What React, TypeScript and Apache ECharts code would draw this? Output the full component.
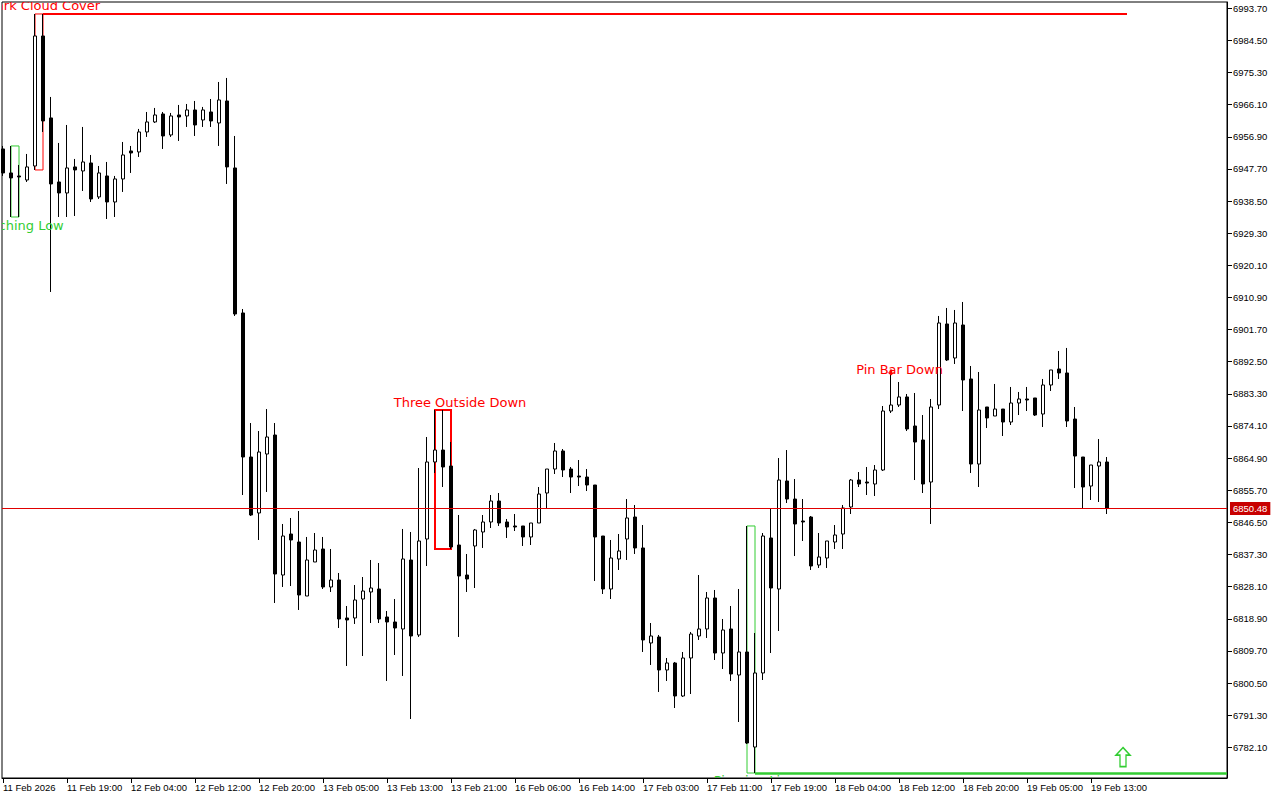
import React, { useEffect, useRef } from "react";
import * as echarts from "echarts";

// Hourly bars: [open, high, low, close]
const candles: number[][] = [
  [6953.42, 6954.28, 6945.69, 6946.55],
  [6946.55, 6954.28, 6933.94, 6945.12],
  [6945.69, 6948.84, 6933.94, 6945.40],
  [6944.54, 6951.99, 6943.97, 6948.27],
  [6948.55, 6992.07, 6947.41, 6985.77],
  [6985.77, 6992.07, 6958.29, 6961.44],
  [6962.30, 6968.31, 6912.47, 6943.40],
  [6943.97, 6955.14, 6933.94, 6940.82],
  [6940.82, 6960.29, 6933.94, 6947.98],
  [6948.27, 6950.56, 6934.23, 6947.41],
  [6947.12, 6959.72, 6941.39, 6949.70],
  [6949.41, 6951.70, 6938.24, 6939.10],
  [6939.68, 6948.55, 6939.10, 6946.55],
  [6945.69, 6949.70, 6933.37, 6938.24],
  [6938.24, 6945.69, 6933.94, 6944.83],
  [6944.83, 6955.42, 6941.11, 6951.70],
  [6952.85, 6954.28, 6946.55, 6952.27],
  [6952.56, 6959.15, 6951.13, 6958.29],
  [6958.29, 6964.01, 6956.86, 6961.15],
  [6961.15, 6965.16, 6960.86, 6963.15],
  [6963.44, 6964.01, 6953.42, 6957.14],
  [6957.43, 6963.73, 6956.86, 6962.87],
  [6963.15, 6966.02, 6955.71, 6962.58],
  [6962.87, 6966.30, 6959.72, 6964.59],
  [6964.59, 6967.16, 6957.14, 6960.29],
  [6961.72, 6965.45, 6959.72, 6964.59],
  [6964.01, 6967.73, 6959.72, 6961.44],
  [6960.86, 6972.60, 6954.28, 6967.45],
  [6967.16, 6973.75, 6943.40, 6948.27],
  [6947.98, 6957.14, 6905.60, 6906.17],
  [6906.46, 6907.60, 6854.34, 6865.22],
  [6865.22, 6874.95, 6848.33, 6848.61],
  [6849.19, 6872.66, 6841.46, 6866.65],
  [6866.08, 6878.96, 6855.20, 6870.95],
  [6871.52, 6874.95, 6823.42, 6831.72],
  [6831.43, 6846.04, 6828.00, 6842.60],
  [6843.17, 6847.76, 6828.28, 6841.46],
  [6840.88, 6849.76, 6821.42, 6825.71],
  [6825.42, 6842.32, 6825.42, 6835.73],
  [6835.16, 6843.46, 6835.16, 6838.59],
  [6838.88, 6842.32, 6827.43, 6828.00],
  [6828.00, 6838.88, 6826.57, 6830.00],
  [6830.00, 6832.01, 6816.26, 6818.84],
  [6819.13, 6822.56, 6805.38, 6818.55],
  [6819.13, 6828.57, 6817.41, 6824.28],
  [6824.56, 6830.86, 6808.24, 6826.85],
  [6826.57, 6835.73, 6817.69, 6827.71],
  [6827.43, 6834.87, 6817.69, 6818.84],
  [6819.41, 6821.13, 6801.09, 6817.98],
  [6817.98, 6824.56, 6808.53, 6816.26],
  [6815.98, 6844.61, 6802.52, 6836.02],
  [6835.73, 6843.75, 6790.20, 6813.97],
  [6814.26, 6862.07, 6813.69, 6841.17],
  [6841.74, 6870.95, 6834.01, 6863.79],
  [6863.79, 6878.68, 6860.64, 6867.22],
  [6867.22, 6878.68, 6856.63, 6862.36],
  [6862.64, 6869.51, 6838.88, 6839.45],
  [6840.02, 6848.61, 6813.69, 6831.15],
  [6831.43, 6837.45, 6826.57, 6830.29],
  [6839.74, 6844.61, 6827.71, 6844.32],
  [6843.75, 6848.61, 6839.17, 6846.61],
  [6846.61, 6854.34, 6844.89, 6852.62],
  [6852.62, 6854.91, 6845.47, 6846.32],
  [6846.61, 6847.47, 6842.03, 6845.18],
  [6845.47, 6848.90, 6844.03, 6845.18],
  [6845.47, 6845.47, 6839.74, 6842.32],
  [6842.32, 6846.32, 6840.02, 6846.32],
  [6846.32, 6856.63, 6846.32, 6854.62],
  [6854.91, 6861.78, 6850.33, 6861.78],
  [6861.78, 6869.23, 6860.35, 6866.94],
  [6866.94, 6867.51, 6859.49, 6861.50],
  [6861.78, 6862.36, 6854.91, 6859.49],
  [6859.78, 6864.36, 6856.91, 6859.49],
  [6859.49, 6861.78, 6855.48, 6857.20],
  [6857.20, 6857.20, 6829.72, 6842.32],
  [6842.60, 6842.60, 6825.99, 6827.43],
  [6827.43, 6841.46, 6824.56, 6836.30],
  [6836.02, 6843.17, 6832.87, 6838.31],
  [6841.74, 6853.19, 6835.73, 6847.76],
  [6848.04, 6851.48, 6837.45, 6839.17],
  [6839.17, 6845.75, 6809.39, 6812.83],
  [6811.97, 6817.69, 6805.67, 6813.97],
  [6813.69, 6814.26, 6797.94, 6804.24],
  [6804.24, 6807.67, 6801.09, 6806.24],
  [6806.24, 6806.53, 6793.35, 6796.79],
  [6796.79, 6809.39, 6796.51, 6807.67],
  [6807.67, 6815.12, 6797.36, 6814.54],
  [6813.97, 6831.43, 6812.83, 6815.98],
  [6815.98, 6826.57, 6813.40, 6824.85],
  [6824.85, 6827.14, 6807.10, 6809.10],
  [6809.10, 6818.84, 6804.52, 6815.69],
  [6815.98, 6822.56, 6801.09, 6803.09],
  [6802.80, 6827.43, 6789.34, 6809.39],
  [6809.39, 6845.47, 6783.04, 6783.33],
  [6782.18, 6814.83, 6774.74, 6803.38],
  [6803.38, 6843.46, 6801.37, 6842.60],
  [6842.03, 6850.33, 6809.10, 6827.71],
  [6827.43, 6864.93, 6815.40, 6858.63],
  [6858.35, 6867.22, 6852.05, 6853.19],
  [6853.19, 6858.92, 6836.87, 6846.04],
  [6846.90, 6853.19, 6841.17, 6846.61],
  [6848.04, 6848.33, 6832.87, 6834.01],
  [6834.30, 6843.46, 6833.44, 6836.59],
  [6836.30, 6841.17, 6833.44, 6841.17],
  [6840.88, 6845.75, 6838.88, 6842.89],
  [6843.17, 6851.48, 6838.88, 6850.62],
  [6850.91, 6858.92, 6848.90, 6858.63],
  [6858.63, 6860.92, 6856.63, 6857.49],
  [6858.06, 6862.36, 6854.34, 6857.77],
  [6857.49, 6862.93, 6854.05, 6861.50],
  [6861.50, 6879.82, 6861.21, 6878.39],
  [6878.39, 6889.85, 6877.82, 6880.11],
  [6880.11, 6886.70, 6879.54, 6882.41],
  [6882.41, 6883.26, 6872.66, 6873.24],
  [6874.10, 6883.55, 6858.63, 6869.51],
  [6870.09, 6877.24, 6854.91, 6857.49],
  [6858.06, 6881.83, 6846.04, 6879.54],
  [6880.11, 6905.60, 6878.96, 6903.59],
  [6903.31, 6907.89, 6892.71, 6893.00],
  [6893.57, 6907.32, 6891.85, 6903.59],
  [6903.02, 6909.61, 6878.39, 6887.27],
  [6887.56, 6891.28, 6860.64, 6863.21],
  [6863.21, 6889.56, 6856.63, 6878.68],
  [6879.54, 6879.54, 6873.52, 6876.39],
  [6876.96, 6886.13, 6876.96, 6878.96],
  [6878.96, 6878.96, 6871.23, 6875.24],
  [6875.24, 6885.27, 6874.38, 6880.68],
  [6880.68, 6883.84, 6877.24, 6881.83],
  [6881.83, 6885.27, 6878.39, 6881.54],
  [6882.12, 6882.12, 6876.96, 6877.24],
  [6877.53, 6887.56, 6873.81, 6885.84],
  [6885.84, 6890.14, 6884.12, 6890.14],
  [6890.42, 6895.58, 6887.56, 6889.28],
  [6889.28, 6896.44, 6873.81, 6875.53],
  [6876.10, 6879.54, 6856.34, 6865.50],
  [6865.22, 6865.22, 6850.33, 6856.63],
  [6856.91, 6862.93, 6852.91, 6862.93],
  [6862.64, 6870.37, 6852.34, 6863.79],
  [6863.79, 6865.22, 6848.90, 6850.48],
];

// Time-axis labels and the bars they sit on
const timeLabels = [
  "11 Feb 2026", "11 Feb 19:00", "12 Feb 04:00", "12 Feb 12:00", "12 Feb 20:00",
  "13 Feb 05:00", "13 Feb 13:00", "13 Feb 21:00", "16 Feb 06:00", "16 Feb 14:00",
  "17 Feb 03:00", "17 Feb 11:00", "17 Feb 19:00", "18 Feb 04:00", "18 Feb 12:00",
  "18 Feb 20:00", "19 Feb 05:00", "19 Feb 13:00",
];
const timeLabelBars = [0, 8, 16, 24, 32, 40, 48, 56, 64, 72, 80, 88, 96, 104, 112, 120, 128, 136];

// Price-axis tick labels
const priceTicks = [
  6782.1, 6791.3, 6800.5, 6809.7, 6818.9, 6828.1, 6837.3, 6846.5, 6855.7, 6864.9,
  6874.1, 6883.3, 6892.5, 6901.7, 6910.9, 6920.1, 6929.3, 6938.5, 6947.7, 6956.9,
  6966.1, 6975.3, 6984.5, 6993.7,
];

const currentPrice = 6850.48;

// Candle patterns: name, first bar, last bar, box top, box bottom
const patternNames = ["Matching Low", "Dark Cloud Cover", "Three Outside Down", "Piercing Line"];
const patternBars = [[1, 2], [4, 5], [54, 56], [93, 94]];
const patternRanges = [[6954.28, 6933.94], [6992.07, 6947.41], [6878.68, 6838.88], [6845.47, 6774.74]];
const patternBullish = [true, false, false, true];

// Pattern labels: text, bar, price anchor
const labelTexts = ["Dark Cloud Cover", "Matching Low", "Three Outside Down", "Pin Bar Down", "Piercing Line"];
const labelBars = [5, 2, 54, 111, 94];
const labelPrices = [6992.07, 6933.94, 6878.68, 6889.85, 6774.74];
const labelBullish = [false, true, false, false, true];

// Horizontal levels: [fromBar, toBar, price]
const resistanceLevel = [5, 140.5, 6992.07];
const supportLevel = [94, 153, 6774.74];

// Signal arrows: [bar, price]
const buyArrow = [140, 6779.32];
const pinArrow = [111, 6889.42];

const RED = "#ff0000";
const GREEN = "#32cd32";
const AXIS_FONT = "Liberation Sans";
const labelOffsets = [[0, -8.5], [0, 8.5], [25, -7.5], [8.5, -1.5], [0, 7]];

export default function App() {
  const ref = useRef<HTMLDivElement>(null);

  useEffect(() => {
    if (!ref.current) return;
    const chart = echarts.init(ref.current, null, { renderer: "svg" });

    const seriesData = candles.map((c, i) => [i, c[0], c[3], c[2], c[1]]);

    const markAreaData = patternNames.map((name, k) => {
      const col = patternBullish[k] ? GREEN : RED;
      return [
        {
          name,
          coord: [patternBars[k][0], patternRanges[k][0]],
          itemStyle: { color: "rgba(0,0,0,0)", borderColor: col, borderWidth: k === 2 ? 2 : 1 },
        },
        { coord: [patternBars[k][1], patternRanges[k][1]] },
      ];
    });

    const option: any = {
      animation: false,
      backgroundColor: "#ffffff",
      grid: {
        left: 2,
        top: 2,
        right: 53,
        bottom: 22,
        show: true,
        borderColor: "#000000",
        borderWidth: 1,
        backgroundColor: "#ffffff",
      },
      xAxis: {
        type: "value",
        min: -0.125,
        max: 153,
        splitLine: { show: false },
        axisLine: { show: true, lineStyle: { color: "#000", width: 1 } },
        axisTick: {
          show: true,
          length: 5,
          inside: false,
          customValues: timeLabelBars,
          lineStyle: { color: "#000" },
        },
        axisLabel: {
          show: true,
          customValues: timeLabelBars,
          formatter: (v: number) => timeLabels[timeLabelBars.indexOf(Math.round(v))] ?? "",
          align: "left",
          margin: 4,
          color: "#000",
          fontFamily: AXIS_FONT,
          fontSize: 9.5,
        },
      },
      yAxis: {
        type: "value",
        position: "right",
        min: 6773.31,
        max: 6995.5,
        scale: true,
        splitLine: { show: false },
        axisLine: { show: true, onZero: false, lineStyle: { color: "#000", width: 1 } },
        axisTick: {
          show: true,
          length: 5,
          inside: false,
          customValues: priceTicks,
          lineStyle: { color: "#000" },
        },
        axisLabel: {
          show: true,
          customValues: priceTicks,
          formatter: (v: number) => v.toFixed(2),
          margin: 6,
          color: "#000",
          fontFamily: AXIS_FONT,
          fontSize: 9.5,
        },
      },
      series: [
        {
          type: "candlestick",
          data: seriesData,
          encode: { x: 0, y: [1, 2, 3, 4] },
          barWidth: 4,
          silent: true,
          clip: true,
          itemStyle: {
            color: "#ffffff",
            color0: "#000000",
            borderColor: "#000000",
            borderColor0: "#000000",
            borderWidth: 1,
          },
          markArea: {
            silent: true,
            label: { show: false },
            data: markAreaData,
          },
          markLine: {
            silent: true,
            symbol: ["none", "none"],
            animation: false,
            data: [
              {
                yAxis: currentPrice,
                lineStyle: { color: "#e00000", width: 1, type: "solid" },
                label: {
                  show: true,
                  position: "end",
                  formatter: currentPrice.toFixed(2),
                  backgroundColor: "#c80000",
                  color: "#ffffff",
                  padding: [2, 3, 1, 3],
                  distance: 3,
                  fontFamily: AXIS_FONT,
                  fontSize: 9.5,
                },
              },
              [
                {
                  coord: [resistanceLevel[0], resistanceLevel[2]],
                  lineStyle: { color: RED, width: 2, type: "solid" },
                  label: { show: false },
                },
                { coord: [resistanceLevel[1], resistanceLevel[2]] },
              ],
              [
                {
                  coord: [supportLevel[0], supportLevel[2]],
                  lineStyle: { color: GREEN, width: 2.5, type: "solid" },
                  label: { show: false },
                },
                { coord: [supportLevel[1], supportLevel[2]] },
              ],
            ],
          },
          markPoint: {
            silent: true,
            label: { show: false },
            data: [
              {
                coord: buyArrow,
                symbol: "path://M7,0 L14,8 L10,8 L10,20 L4,20 L4,8 L0,8 Z",
                symbolSize: [14, 19],
                itemStyle: { color: "#ffffff", borderColor: GREEN, borderWidth: 1.5 },
              },
              {
                coord: pinArrow,
                symbol: "path://M2,0 L4,0 L4,3 L6,3 L3,6 L0,3 L2,3 Z",
                symbolSize: [7, 6],
                itemStyle: { color: RED },
              },
            ],
          },
        },
        {
          type: "custom",
          clip: true,
          silent: true,
          data: labelBars.map((b, i) => [b, labelPrices[i]]),
          encode: { x: 0, y: 1 },
          z: 5,
          renderItem: (params: any, api: any) => {
            const i = params.dataIndex;
            const p = api.coord([api.value(0), api.value(1)]);
            return {
              type: "text",
              x: p[0] + labelOffsets[i][0],
              y: p[1] + labelOffsets[i][1],
              style: {
                text: labelTexts[i],
                fill: labelBullish[i] ? GREEN : RED,
                fontFamily: "DejaVu Sans",
                fontSize: 13,
                align: "center",
                verticalAlign: "middle",
              },
            };
          },
        },
      ],
    };

    chart.setOption(option);
    return () => chart.dispose();
  }, []);

  return (
    <div
      ref={ref}
      style={{ position: "fixed", left: 0, top: 0, width: 1280, height: 800, background: "#ffffff" }}
    />
  );
}
